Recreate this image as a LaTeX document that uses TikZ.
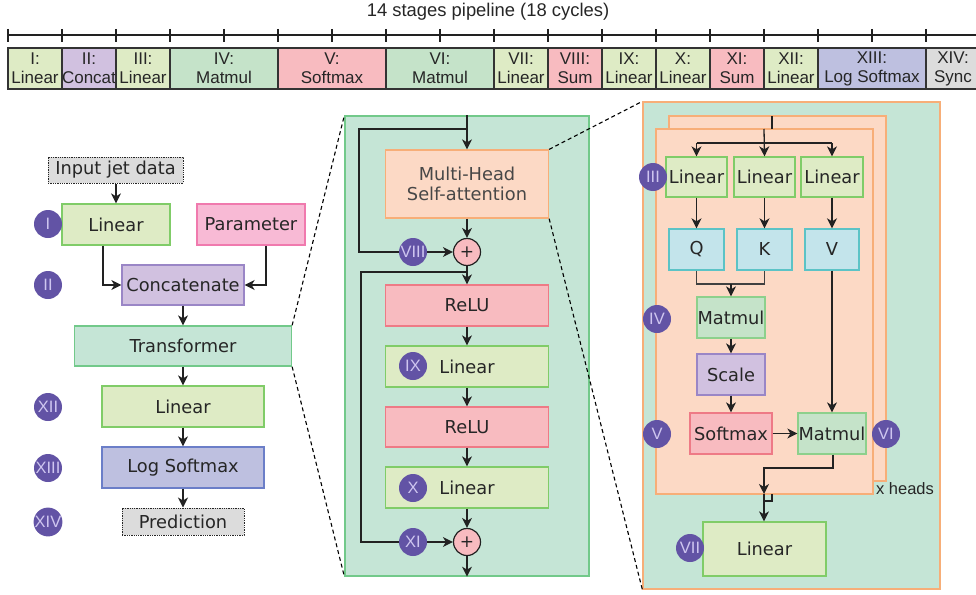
\documentclass[tikz,border=0pt]{standalone}
\usepackage{fontspec}
\setmainfont{DejaVu Sans}
\newfontfamily\arialf{Liberation Sans}
\usetikzlibrary{arrows.meta}
\definecolor{linF}{HTML}{DEEBC5}
\definecolor{linD}{HTML}{80CC68}
\definecolor{matF}{HTML}{C5E3C9}
\definecolor{matD}{HTML}{8DD08C}
\definecolor{softF}{HTML}{F8BBC0}
\definecolor{softD}{HTML}{EE7A86}
\definecolor{catF}{HTML}{D1C1E0}
\definecolor{catD}{HTML}{9A86C6}
\definecolor{logF}{HTML}{BEC0E0}
\definecolor{logD}{HTML}{6B7EC8}
\definecolor{syncF}{HTML}{DCDCDC}
\definecolor{parF}{HTML}{F8BAD5}
\definecolor{parD}{HTML}{F07AAE}
\definecolor{mintF}{HTML}{C5E5D6}
\definecolor{mintD}{HTML}{72C98A}
\definecolor{peachF}{HTML}{FCD9C5}
\definecolor{peachD}{HTML}{F7AE78}
\definecolor{qkvF}{HTML}{C3E4EB}
\definecolor{qkvD}{HTML}{5CC3C6}
\definecolor{circF}{HTML}{6253A5}
\definecolor{circT}{HTML}{CFC6F0}
\definecolor{txt}{HTML}{262626}
\definecolor{lineC}{HTML}{222222}
\tikzset{
 box/.style={draw, line width=1.3pt, inner sep=0pt, align=center, text=txt, font=\fontsize{17.8}{20}\selectfont},
 lin/.style={box, fill=linF, draw=linD},
 mat/.style={box, fill=matF, draw=matD},
 soft/.style={box, fill=softF, draw=softD},
 cat/.style={box, fill=catF, draw=catD},
 logb/.style={box, fill=logF, draw=logD},
 par/.style={box, fill=parF, draw=parD},
 qkv/.style={box, fill=qkvF, draw=qkvD},
 peach/.style={box, fill=peachF, draw=peachD},
 mint/.style={box, fill=mintF, draw=mintD},
 io/.style={box, fill=syncF, draw=black!85, densely dotted, line width=1pt},
 num/.style={circle, fill=circF, inner sep=0pt, minimum size=28pt, text=circT, font=\arialf\fontsize{16.5}{16.5}\selectfont},
 plus/.style={circle, fill=softF, draw=lineC, line width=1.2pt, minimum size=27pt, inner sep=0pt, font=\fontsize{17}{17}\selectfont, text=txt},
 arr/.style={draw=lineC, line width=1.3pt, -{Stealth[length=10pt,width=10pt,inset=3pt]}},
 ln/.style={draw=lineC, line width=1.3pt},
 zoomln/.style={draw=black, line width=1.1pt, dash pattern=on 4pt off 3pt},
 pbox/.style={draw=black!80, line width=1.2pt, inner sep=0pt, align=center, text=txt, minimum height=41pt, font=\arialf\fontsize{17}{19}\selectfont},
}
\begin{document}
\begin{tikzpicture}[x=1pt,y=-1pt]
\useasboundingbox (0,0) rectangle (976,594);
% ---------- pipeline ----------
\node[font=\arialf\fontsize{18.4}{18.4}\selectfont, text=txt] (title) at (488,12) {14 stages pipeline (18 cycles)};
\draw[ln, line width=1.2pt] (8,35) -- (976,35);
\foreach \k in {0,...,17} \draw[ln, line width=1.2pt] (8+54*\k,29) -- (8+54*\k,42);
\node[pbox, fill=linF, minimum width=54pt] (p1) at (35,68.5) {I:\\Linear};
\node[pbox, fill=catF, minimum width=54pt] (p2) at (89,68.5) {II:\\Concat};
\node[pbox, fill=linF, minimum width=54pt] (p3) at (143,68.5) {III:\\Linear};
\node[pbox, fill=matF, minimum width=108pt] (p4) at (224,68.5) {IV:\\Matmul};
\node[pbox, fill=softF, minimum width=108pt] (p5) at (332,68.5) {V:\\Softmax};
\node[pbox, fill=matF, minimum width=108pt] (p6) at (440,68.5) {VI:\\Matmul};
\node[pbox, fill=linF, minimum width=54pt] (p7) at (521,68.5) {VII:\\Linear};
\node[pbox, fill=softF, minimum width=54pt] (p8) at (575,68.5) {VIII:\\Sum};
\node[pbox, fill=linF, minimum width=54pt] (p9) at (629,68.5) {IX:\\Linear};
\node[pbox, fill=linF, minimum width=54pt] (p10) at (683,68.5) {X:\\Linear};
\node[pbox, fill=softF, minimum width=54pt] (p11) at (737,68.5) {XI:\\Sum};
\node[pbox, fill=linF, minimum width=54pt] (p12) at (791,68.5) {XII:\\Linear};
\node[pbox, fill=logF, minimum width=108pt] (p13) at (872,68.5) {XIII:\\Log Softmax};
\node[pbox, fill=syncF, minimum width=54pt] (p14) at (953,68.5) {XIV:\\Sync};
% ---------- left ----------
\node[io, minimum width=135pt, minimum height=26pt] (inp) at (115.5,170) {Input jet data};
\node[lin, minimum width=108pt, minimum height=41pt] (lin1) at (116,224.5) {Linear};
\node[par, minimum width=108pt, minimum height=41pt] (param) at (251,224.5) {Parameter};
\node[cat, minimum width=122pt, minimum height=40pt] (concat) at (183,285) {Concatenate};
\node[mint, minimum width=217pt, minimum height=40pt] (trans) at (183,346) {Transformer};
\node[lin, minimum width=162pt, minimum height=41pt] (lin12) at (183,406.5) {Linear};
\node[logb, minimum width=162pt, minimum height=41pt] (logsm) at (183,467.5) {Log Softmax};
\node[io, minimum width=122pt, minimum height=27pt] (pred) at (183,521.5) {Prediction};
\node[num] (c1) at (48,224) {I};
\node[num] (c2) at (48,285) {II};
\node[num] (c12) at (48,407) {XII};
\node[num] (c13) at (48,468) {XIII};
\node[num] (c14) at (48,522) {XIV};
\draw[arr] (inp.south -| lin1.north) -- (lin1.north);
\draw[arr] ([xshift=-13pt]lin1.south) |- (concat.west);
\draw[arr] ([xshift=15pt]param.south) |- (concat.east);
\draw[arr] (concat.south) -- (trans.north);
\draw[arr] (trans.south) -- (lin12.north);
\draw[arr] (lin12.south) -- (logsm.north);
\draw[arr] (logsm.south) -- (pred.north);
% ---------- middle ----------
\node[mint, minimum width=244pt, minimum height=460pt] (tbox) at (467,346) {};
\node[peach, text=black!72, minimum width=163pt, minimum height=68pt] (mhsa) at (467,184) {Multi-Head\\Self-attention};
\node[plus] (plus1) at (467,252) {+};
\node[soft, minimum width=163pt, minimum height=41pt] (relu1) at (467,305.5) {ReLU};
\node[lin, minimum width=163pt, minimum height=41pt] (lin9) at (467,366.5) {Linear};
\node[soft, minimum width=163pt, minimum height=40pt] (relu2) at (467,427) {ReLU};
\node[lin, minimum width=163pt, minimum height=41pt] (lin10) at (467,487.5) {Linear};
\node[plus] (plus2) at (467,542) {+};
\coordinate (s1a) at (467,129);
\coordinate (s1b) at (359,129);
\coordinate (s2a) at (467,272);
\coordinate (s2b) at (361,272);
\draw[arr] (tbox.north) -- (mhsa.north);
\draw[arr] (s1a) -- (s1b) |- (plus1.west);
\draw[arr] (mhsa.south) -- (plus1.north);
\draw[arr] (plus1.south) -- (relu1.north);
\draw[arr] (s2a) -- (s2b) |- (plus2.west);
\draw[arr] (relu1.south) -- (lin9.north);
\draw[arr] (lin9.south) -- (relu2.north);
\draw[arr] (relu2.south) -- (lin10.north);
\draw[arr] (lin10.south) -- (plus2.north);
\draw[arr] (plus2.south) -- (tbox.south);
\node[num] (c8) at (413,252) {VIII};
\node[num] (c9) at (413,366) {IX};
\node[num] (c10) at (413,488) {X};
\node[num] (c11) at (413,542) {XI};
% ---------- right ----------
\node[box, fill=mintF, draw=peachD, minimum width=297pt, minimum height=487pt] (rbox) at (791.5,345.5) {};
\node[peach, minimum width=217pt, minimum height=365pt] (back) at (777.5,298.5) {};
\node[peach, minimum width=217pt, minimum height=365pt] (front) at (764.5,311.5) {};
\node[font=\arialf\fontsize{16.5}{16.5}\selectfont, text=txt] (xh) at (905,489) {x heads};
\node[lin, minimum width=61pt, minimum height=40pt] (ra1) at (696.5,177) {Linear};
\node[lin, minimum width=61pt, minimum height=40pt] (ra2) at (764.5,177) {Linear};
\node[lin, minimum width=62pt, minimum height=40pt] (ra3) at (832,177) {Linear};
\node[qkv, minimum width=55pt, minimum height=41pt] (q) at (696.5,249.5) {Q};
\node[qkv, minimum width=55pt, minimum height=41pt] (k) at (764.5,249.5) {K};
\node[qkv, minimum width=54pt, minimum height=41pt] (v) at (832,249.5) {V};
\node[mat, minimum width=68pt, minimum height=41pt] (mm4) at (731,317.5) {Matmul};
\node[cat, minimum width=68pt, minimum height=41pt] (scale) at (731,374.5) {Scale};
\node[soft, minimum width=82pt, minimum height=41pt] (sm5) at (731,433.5) {Softmax};
\node[mat, minimum width=68pt, minimum height=41pt] (mm6) at (832,433.5) {Matmul};
\node[lin, minimum width=123pt, minimum height=54pt] (lin7) at (764.5,549) {Linear};
\coordinate (hb) at (772,116);
\coordinate (hbe) at (772,129);
\coordinate (hf) at (764,129);
\coordinate (hbar) at (764,143);
\draw[ln] (hb) -- (hbe);
\draw[arr] (hf) -- (ra2.north);
\draw[ln] (hbar -| ra1.north) -- (hbar -| ra3.north);
\draw[arr] (hbar -| ra1.north) -- (ra1.north);
\draw[arr] (hbar -| ra3.north) -- (ra3.north);
\draw[arr, line width=1.8pt] (ra1.south) -- (q.north);
\draw[arr, line width=1.8pt] (ra2.south) -- (k.north);
\draw[arr, line width=1.8pt] (ra3.south) -- (v.north);
\coordinate (qk) at (731,284);
\draw[ln, line width=1.1pt, draw=black!75] (q.south) |- (qk) -| (k.south);
\draw[arr] (qk) -- (mm4.north);
\draw[arr] (mm4.south) -- (scale.north);
\draw[arr] (scale.south) -- (sm5.north);
\draw[arr] (v.south) -- (mm6.north);
\draw[arr] (sm5.east) -- (mm6.west);
\coordinate (o1) at (833,468);
\coordinate (o2) at (764,468);
\coordinate (o3) at (764,494);
\coordinate (o4) at (772,494);
\coordinate (o5) at (772,501);
\coordinate (o6) at (764,501);
\draw[arr] (mm6.south -| o1) -- (o1) -- (o2) -- (o3);
\draw[ln, line width=1.1pt] (o4) -- (o5) -- (o6);
\draw[arr] (o3) -- (lin7.north -| o3);
\node[num] (c3) at (653,177) {III};
\node[num] (c4) at (657,319) {IV};
\node[num] (c5) at (657,434) {V};
\node[num] (c6) at (886,434) {VI};
\node[num] (c7) at (690,548) {VII};
% ---------- zoom lines ----------
\draw[zoomln] (trans.north east) -- (tbox.north west);
\draw[zoomln] (trans.south east) -- (tbox.south west);
\draw[zoomln] (mhsa.north east) -- (rbox.north west);
\draw[zoomln] (mhsa.south east) -- (rbox.south west);
\end{tikzpicture}
\end{document}
